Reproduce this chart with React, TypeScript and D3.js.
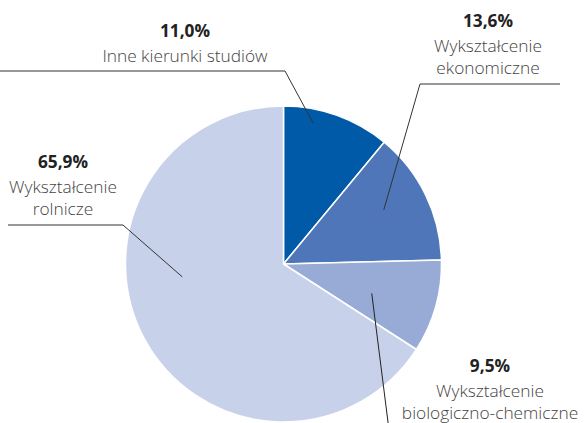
import React, { useEffect, useRef } from "react";
import * as d3 from "d3";

const categories = [
  "Inne kierunki studiów",
  "Wykształcenie ekonomiczne",
  "Wykształcenie biologiczno-chemiczne",
  "Wykształcenie rolnicze",
];
const shares = [11.0, 13.6, 9.5, 65.9];
const valueLabels = ["11,0%", "13,6%", "9,5%", "65,9%"];
const labelLines = [
  ["Inne kierunki studiów"],
  ["Wykształcenie", "ekonomiczne"],
  ["Wykształcenie", "biologiczno-chemiczne"],
  ["Wykształcenie", "rolnicze"],
];
const colors = ["#005aa8", "#4e76b8", "#98abd6", "#c8d1ea"];

// label layout: text centre x, bold baseline y, shelf [farX, kneeX, y], leader target (fraction of slice, radius)
const layout = [
  { tx: 185, ty: 37, shelf: [0, 285, 71], frac: 0.3, rr: 144 },
  { tx: 488, ty: 27, shelf: [560, 420, 84], frac: 0.45, rr: 114 },
  { tx: 490, ty: 372, shelf: null, frac: 0.58, rr: 93 },
  { tx: 63, ty: 168, shelf: [8, 123, 225], frac: 0.59, rr: 102 },
];

export default function App() {
  const ref = useRef<SVGSVGElement | null>(null);

  useEffect(() => {
    if (!ref.current) return;
    const svg = d3.select(ref.current);
    svg.selectAll("*").remove();

    const cx = 283.5;
    const cy = 264;
    const r = 158;

    const pie = d3
      .pie<number>()
      .sort(null)
      .value((d) => d);
    const arcs = pie(shares);
    const arc = d3.arc<d3.PieArcDatum<number>>().innerRadius(0).outerRadius(r);

    const g = svg.append("g").attr("transform", `translate(${cx},${cy})`);
    g.selectAll("path")
      .data(arcs)
      .enter()
      .append("path")
      .attr("d", arc)
      .attr("fill", (d, i) => colors[i])
      .attr("stroke", "#fff")
      .attr("stroke-width", 1.5)
      .attr("stroke-linejoin", "round");

    const font = "'Open Sans', 'Noto Sans', sans-serif";

    arcs.forEach((a, i) => {
      const L = layout[i];
      const ang = a.startAngle + (a.endAngle - a.startAngle) * L.frac;
      const px = cx + Math.sin(ang) * L.rr;
      const py = cy - Math.cos(ang) * L.rr;

      if (L.shelf) {
        const [x0, x1, y] = L.shelf;
        svg
          .append("path")
          .attr("d", `M${x0},${y}L${x1},${y}L${px},${py}`)
          .attr("fill", "none")
          .attr("stroke", "#333")
          .attr("stroke-width", 1);
      } else {
        svg
          .append("line")
          .attr("x1", px)
          .attr("y1", py)
          .attr("x2", 389)
          .attr("y2", 430)
          .attr("stroke", "#222")
          .attr("stroke-width", 1);
      }

      const t = svg
        .append("text")
        .attr("text-anchor", "middle")
        .attr("font-family", font)
        .attr("font-size", 17.3);
      t.append("tspan")
        .attr("x", L.tx)
        .attr("y", L.ty)
        .attr("font-weight", 700)
        .attr("fill", "#222")
        .text(valueLabels[i]);
      labelLines[i].forEach((line, j) => {
        t.append("tspan")
          .attr("x", L.tx)
          .attr("y", L.ty + 25 + j * 22)
          .attr("font-weight", 300)
          .attr("fill", "#444")
          .text(line);
      });
      t.append("title").text(categories[i]);
    });
  }, []);

  return (
    <svg
      ref={ref}
      width={584}
      height={423}
      style={{ position: "absolute", left: 0, top: 0, background: "#fff" }}
    />
  );
}
